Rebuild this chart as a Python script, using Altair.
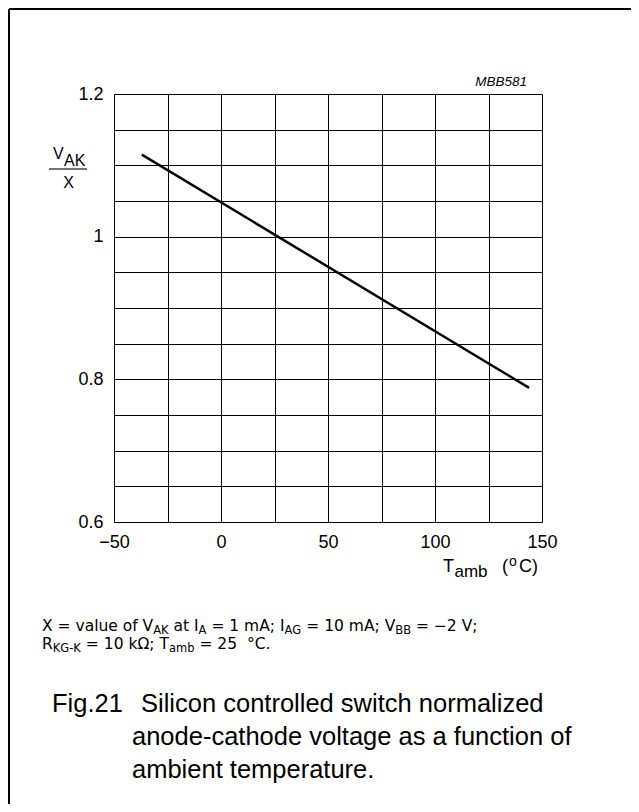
import altair as alt
import pandas as pd

# ---- data ----
temp = [-37, 144]            # Tamb (deg C), line end points
ratio = [1.115, 0.788]       # VAK / X
x_grid = [-50, -25, 0, 25, 50, 75, 100, 125, 150]
y_grid = [0.6, 0.65, 0.7, 0.75, 0.8, 0.85, 0.9, 0.95, 1.0, 1.05, 1.1, 1.15, 1.2]
x_labels = [-50, 0, 50, 100, 150]
y_labels = [0.6, 0.8, 1.0, 1.2]

W, H = 428, 428
FONT = "Liberation Sans"
NOTE_FONT = "DejaVu Sans"
NB = "\u00a0"

df = pd.DataFrame({"t": temp, "r": ratio})
one = pd.DataFrame({"a": [0]})

# DejaVu Sans advance widths (1/1000 em), for placing sub/superscript runs
DW = {" ": 318, NB: 318, "=": 838, "X": 684, "v": 592, "a": 613, "l": 278,
      "u": 634, "e": 615, "o": 612, "f": 352, "V": 684, "A": 684, "K": 656,
      "t": 392, "I": 295, "m": 974, ";": 337, "G": 775, "B": 686,
      "\u2212": 838, "R": 695, "-": 361, "k": 579, "\u03a9": 770, "T": 611,
      "b": 635, "\u00b0": 500, "C": 698, ".": 318}
for d in "0123456789":
    DW[d] = 636


def width(s, size):
    return sum(DW.get(c, 620) for c in s) * size / 1000.0


def txt(s, x, y, size, align="left", style="normal", font=FONT):
    s = s.replace(" ", NB)
    return alt.Chart(one).mark_text(
        align=align, baseline="alphabetic", fontSize=size, font=font,
        fontStyle=style, color="black"
    ).encode(x=alt.value(x), y=alt.value(y), text=alt.value(s))


def runs(parts, x0, y, size, subsize, suboff):
    # Vega trims leading/trailing blanks, so shift each run by its leading blanks
    out = []
    x = x0
    for s, kind in parts:
        sz = size if kind == "m" else subsize
        dy = 0 if kind == "m" else suboff
        lead = s[: len(s) - len(s.lstrip(" "))]
        out.append(txt(s.strip(" "), x + width(lead, sz), y + dy, sz, font=NOTE_FONT))
        x += width(s, sz)
    return out


def in_list(vals):
    return "[" + ",".join(repr(v) for v in vals) + "]"


base = alt.Chart(df)

line = base.mark_line(color="black", strokeWidth=2.5).encode(
    x=alt.X("t:Q", scale=alt.Scale(domain=[-50, 150], nice=False, zero=False),
            axis=alt.Axis(
                values=x_grid, title=None, grid=True, gridColor="black",
                gridOpacity=1, gridWidth=1, ticks=False, tickSize=0, domain=False,
                labelFont=FONT, labelFontSize=18, labelColor="black",
                labelPadding=11, labelFlush=False,
                labelExpr="indexof(" + in_list(x_labels) + ", datum.value) >= 0 ? format(datum.value, 'd') : ''")),
    y=alt.Y("r:Q", scale=alt.Scale(domain=[0.6, 1.2], nice=False, zero=False),
            axis=alt.Axis(
                values=y_grid, title=None, grid=True, gridColor="black",
                gridOpacity=1, gridWidth=1, ticks=False, tickSize=0, domain=False,
                labelFont=FONT, labelFontSize=18, labelColor="black",
                labelPadding=11, labelFlush=False,
                labelExpr="indexof(" + in_list(y_labels) + ", datum.value) >= 0 ? format(datum.value, '~g') : ''")),
)

layers = [line]

# chart code
layers.append(txt("MBB581", 413, -8, 13.5, align="right", style="italic"))

# y-axis title: VAK / X
layers.append(txt("V", -61, 65, 16))
layers.append(txt("AK", -50, 72, 16))
layers.append(alt.Chart(one).mark_rule(color="#444", strokeWidth=1.3).encode(
    x=alt.value(-65), x2=alt.value(-27), y=alt.value(75)))
layers.append(txt("X", -45.5, 94, 16, align="center"))

# x-axis title: Tamb (oC)
layers.append(txt("T", 329, 478, 18))
layers.append(txt("amb", 340.5, 483, 17))
layers.append(txt("(", 388, 478, 18))
layers.append(txt("o", 395, 472, 14))
layers.append(txt("C)", 405, 478, 18))

# footnote
layers += runs([("X = value of V", "m"), ("AK", "s"), (" at I", "m"), ("A", "s"),
                (" = 1 mA; I", "m"), ("AG", "s"), (" = 10 mA; V", "m"), ("BB", "s"),
                (" = \u22122 V;", "m")], -72, 537, 15.5, 11.5, 2.5)
layers += runs([("R", "m"), ("KG-K", "s"), (" = 10 k\u03a9; T", "m"), ("amb", "s"),
                (" = 25  \u00b0C.", "m")], -72, 555, 15.5, 11.5, 2.5)

# caption
layers.append(txt("Fig.21", -62, 618, 25.5))
layers.append(txt("Silicon controlled switch normalized", 27, 618, 25.5))
layers.append(txt("anode-cathode voltage as a function of", 18, 651, 25.5))
layers.append(txt("ambient temperature.", 18, 684, 25.5))

# page frame (top and left edges)
layers.append(alt.Chart(one).mark_rule(color="black", strokeWidth=2).encode(
    x=alt.value(-105), x2=alt.value(520), y=alt.value(-85)))
layers.append(alt.Chart(one).mark_rule(color="black", strokeWidth=2).encode(
    x=alt.value(-105), y=alt.value(-85), y2=alt.value(720)))

chart = alt.layer(*layers).properties(
    width=W, height=H,
    autosize=alt.AutoSizeParams(type="none"),
    padding={"left": 106, "top": 86, "right": 89, "bottom": 282},
).configure_view(stroke="black", strokeWidth=1).configure(background="white")

chart.save("out.html", embed_options={"renderer": "svg", "actions": False})
